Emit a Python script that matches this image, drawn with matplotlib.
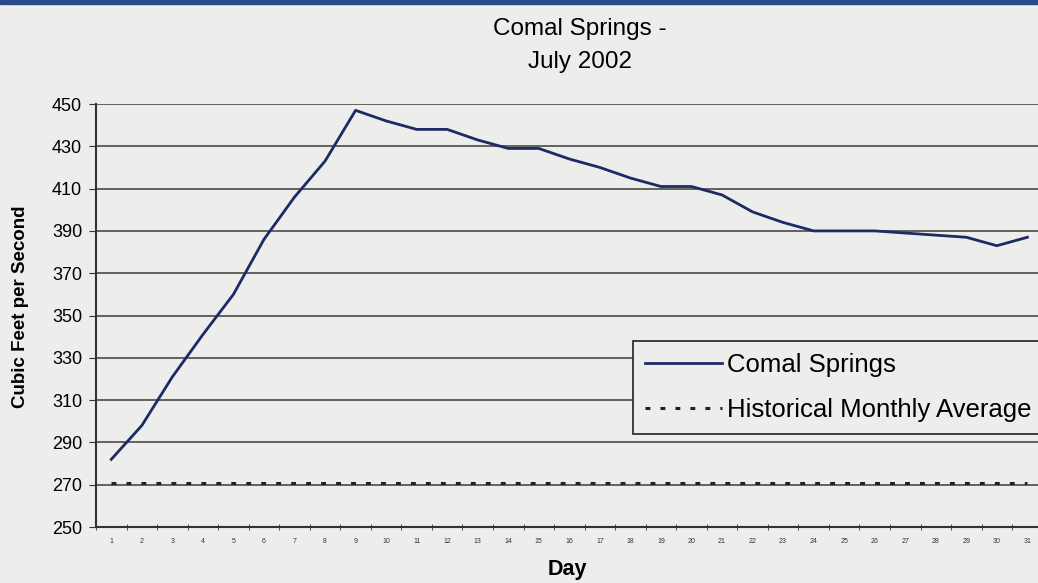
import matplotlib.pyplot as plt
import matplotlib.patches as patches
import numpy as np

# Comal Springs daily flow, July 2002 (cfs)
days = list(range(1, 32))
flow = [282, 298, 321, 341, 360, 386, 406, 423, 447, 442, 438, 438, 433, 429, 429,
        424, 420, 415, 411, 411, 407, 399, 394, 390, 390, 390, 389, 388, 387, 383, 387]
hist_avg = [271] * 31
y_ticks = list(range(250, 451, 20))

plt.rcParams['font.family'] = ['Liberation Sans', 'DejaVu Sans']
bg = '#ededeb'

fig = plt.figure(figsize=(10.38, 5.83), dpi=100, facecolor=bg)
ax = fig.add_axes([0.0925, 0.096, 0.912, 0.7256])
ax.set_facecolor(bg)

# blue band at top of the page
fig.patches.append(patches.Rectangle((0, 0.993), 1, 0.007, transform=fig.transFigure,
                                     color='#2b4a8c', zorder=0))

x = np.array(days)
ax.plot(x, flow, color='#1c2a66', lw=2, label='Comal Springs', zorder=3)
ax.plot(x, hist_avg, color='#222222', lw=2.2, ls=(0, (1.6, 3.3)),
        label='Historical Monthly Average', zorder=3)

ax.set_xlim(0.5, 31.5)
ax.set_ylim(250, 450)
ax.set_yticks(y_ticks)
ax.yaxis.grid(True, color='#4a4a4a', lw=1.2)
ax.set_axisbelow(True)

ax.set_xticks(x)
ax.set_xticklabels([str(d) for d in days], fontsize=5, color='#333333')
ax.set_xticks(np.arange(0.5, 32, 1), minor=True)
ax.tick_params(axis='x', which='major', length=0, pad=8)
ax.tick_params(axis='x', which='minor', length=4, direction='inout', color='#333333')
ax.tick_params(axis='y', labelsize=13, length=5, pad=5, direction='out', color='#333333')

for s in ['top', 'right']:
    ax.spines[s].set_visible(False)
ax.spines['left'].set_color('#333333')
ax.spines['left'].set_linewidth(1.5)
ax.spines['bottom'].set_color('#333333')
ax.spines['bottom'].set_linewidth(1.5)

fig.text(0.559, 0.951, 'Comal Springs -', ha='center', va='center', fontsize=17.5)
fig.text(0.559, 0.893, 'July 2002', ha='center', va='center', fontsize=17.5)
fig.text(0.547, 0.024, 'Day', ha='center', va='center', fontsize=15.5, fontweight='bold')
fig.text(0.02, 0.473, 'Cubic Feet per Second', ha='center', va='center', rotation=90,
         fontsize=13.5, fontweight='bold')

leg = ax.legend(loc='upper left', bbox_to_anchor=(0.61, 0.415),
                bbox_transform=fig.transFigure, fontsize=18.5, frameon=True,
                fancybox=False, facecolor=bg, framealpha=1, edgecolor='#222222',
                borderaxespad=0, handlelength=3.0, handletextpad=0.2,
                borderpad=0.45, labelspacing=0.85)
leg.get_frame().set_linewidth(1.2)

fig.savefig('out.png', dpi=100, facecolor=bg)
